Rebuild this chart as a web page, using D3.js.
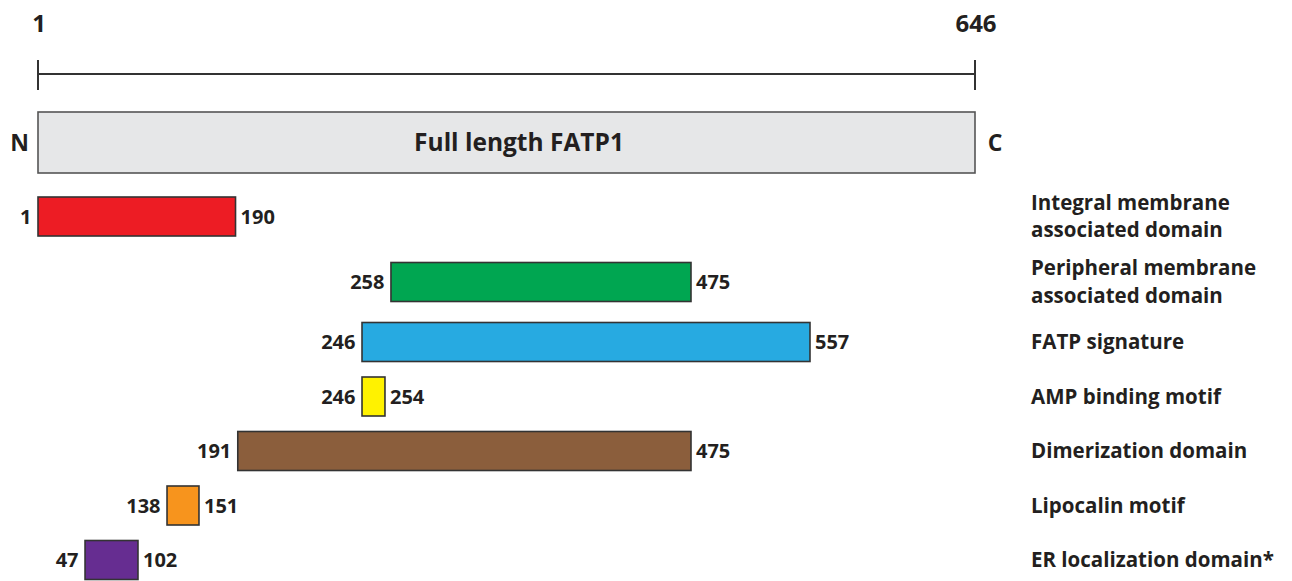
<!DOCTYPE html>
<html>
<head>
<meta charset="utf-8">
<script src="https://cdn.jsdelivr.net/npm/d3@7"></script>
<style>
  html, body { margin: 0; padding: 0; background: #fff; }
  svg { display: block; }
  text { font-family: "Open Sans", "Noto Sans", sans-serif; font-weight: 700; fill: #231f20; }
</style>
</head>
<body>
<svg id="chart" width="1292" height="581"></svg>
<script>
// ---------- data ----------
const proteinName = "Full length FATP1";
const proteinLength = [1, 646];
const terminalLabels = ["N", "C"];

const domainNames = [
  ["Integral membrane", "associated domain"],
  ["Peripheral membrane", "associated domain"],
  ["FATP signature"],
  ["AMP binding motif"],
  ["Dimerization domain"],
  ["Lipocalin motif"],
  ["ER localization domain*"]
];
const domainStarts = [1, 258, 246, 246, 191, 138, 47];
const domainEnds   = [190, 475, 557, 254, 475, 151, 102];
const domainColors = ["#ed1c24", "#00a651", "#27aae1", "#fff200", "#8b5e3c", "#f7941d", "#662d91"];

// schematic (not-to-scale) landmark residues and their relative place along the track
const landmarkResidues = [1, 47, 102, 138, 151, 190, 246, 254, 258, 475, 557, 646];
const landmarkFractions = [0, 0.0502, 0.1067, 0.1377, 0.1718, 0.2108, 0.3458, 0.3703, 0.3767, 0.6969, 0.8239, 1];

// ---------- layout ----------
const svg = d3.select("#chart");
const trackLeft = 38, trackRight = 975;
const x = d3.scaleLinear()
  .domain(landmarkResidues)
  .range(landmarkFractions.map(f => trackLeft + f * (trackRight - trackLeft)));

const barH = 39;
// row centres: base step plus extra room for multi-line labels
const firstCenter = 216.5, baseStep = 54.5, extraPerLine = 5.5;
const rowCenters = [];
domainNames.forEach((lines, i) => {
  if (i === 0) rowCenters.push(firstCenter);
  else rowCenters.push(rowCenters[i - 1] + baseStep +
    extraPerLine * ((domainNames[i - 1].length - 1) + (lines.length - 1)));
});

const ink = "#333";

// ---------- top ruler ----------
const rulerY = 74;
svg.append("line")
  .attr("x1", x(proteinLength[0])).attr("x2", x(proteinLength[1]))
  .attr("y1", rulerY).attr("y2", rulerY)
  .attr("stroke", ink).attr("stroke-width", 2);
svg.selectAll(".rtick").data(proteinLength).join("line")
  .attr("class", "rtick")
  .attr("x1", d => x(d)).attr("x2", d => x(d))
  .attr("y1", rulerY - 14).attr("y2", rulerY + 16)
  .attr("stroke", ink).attr("stroke-width", 2);
svg.selectAll(".rlabel").data(proteinLength).join("text")
  .attr("class", "rlabel")
  .attr("x", d => x(d) + 1).attr("y", 32)
  .attr("text-anchor", "middle")
  .style("font-size", "24px")
  .text(d => d);

// ---------- full-length box ----------
const fullTop = 112, fullH = 61;
svg.append("rect")
  .attr("x", x(proteinLength[0])).attr("y", fullTop)
  .attr("width", x(proteinLength[1]) - x(proteinLength[0])).attr("height", fullH)
  .attr("fill", "#e6e7e8").attr("stroke", "#555").attr("stroke-width", 1.6);
svg.append("text")
  .attr("x", (x(proteinLength[0]) + x(proteinLength[1])) / 2 + 12.5)
  .attr("y", fullTop + fullH / 2 + 8.5)
  .attr("text-anchor", "middle")
  .style("font-size", "24.5px")
  .text(proteinName);
svg.append("text")
  .attr("x", x(proteinLength[0]) - 18.5).attr("y", fullTop + fullH / 2 + 8)
  .attr("text-anchor", "middle").style("font-size", "23px")
  .text(terminalLabels[0]);
svg.append("text")
  .attr("x", x(proteinLength[1]) + 20).attr("y", fullTop + fullH / 2 + 8)
  .attr("text-anchor", "middle").style("font-size", "23px")
  .text(terminalLabels[1]);

// ---------- domain bars ----------
const rows = domainNames.map((lines, i) => ({
  lines, start: domainStarts[i], end: domainEnds[i], color: domainColors[i], cy: rowCenters[i]
}));

const g = svg.selectAll(".row").data(rows).join("g").attr("class", "row");
g.append("rect")
  .attr("x", d => x(d.start)).attr("y", d => d.cy - barH / 2)
  .attr("width", d => x(d.end) - x(d.start)).attr("height", barH)
  .attr("fill", d => d.color).attr("stroke", ink).attr("stroke-width", 1.6);
g.append("text")
  .attr("x", d => x(d.start) - 6.5).attr("y", d => d.cy + 7)
  .attr("text-anchor", "end").style("font-size", "20px")
  .text(d => d.start);
g.append("text")
  .attr("x", d => x(d.end) + 5).attr("y", d => d.cy + 7)
  .attr("text-anchor", "start").style("font-size", "20px")
  .text(d => d.end);

const labelX = 1031, lineGap = 27.4;
g.append("text")
  .attr("x", labelX)
  .attr("y", d => d.cy + 7 - (d.lines.length - 1) * lineGap / 2)
  .style("font-size", "20.5px")
  .selectAll("tspan").data(d => d.lines).join("tspan")
  .attr("x", labelX)
  .attr("dy", (d, i) => i === 0 ? 0 : lineGap)
  .text(d => d);
</script>
</body>
</html>
